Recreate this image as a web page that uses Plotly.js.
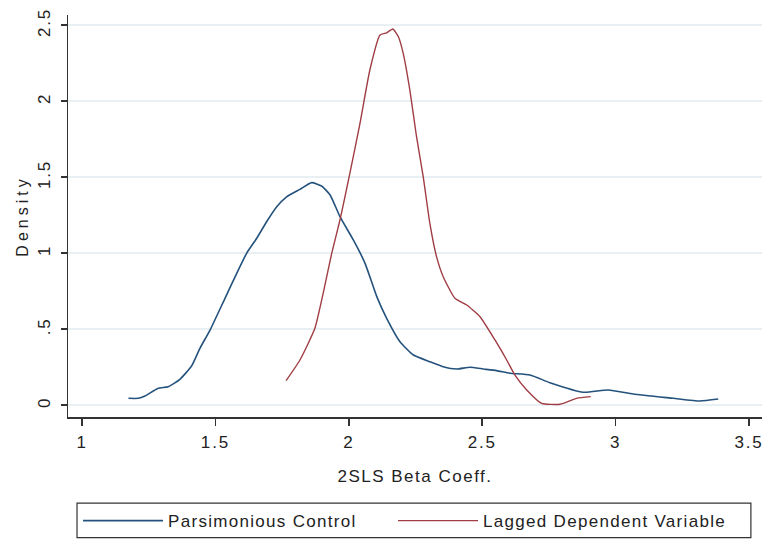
<!DOCTYPE html>
<html>
<head>
<meta charset="utf-8">
<script src="https://cdn.plot.ly/plotly-3.0.1.min.js"></script>
<style>
  html, body { margin: 0; padding: 0; background: #ffffff; }
  #chart { width: 765px; height: 540px; }
  /* wide-set lettering used throughout the figure */
  #chart .xtick text, #chart .ytick text { letter-spacing: 1.8px; }
  #chart .xtitle { letter-spacing: 1.5px; }
  #chart .ytitle { letter-spacing: 4px; }
  #chart .legendtext { letter-spacing: 1.3px; }
  /* let the last legend entry show its full, wider-set label */
  #chart g.legend g.scrollbox, #chart g.legend { clip-path: none !important; }
</style>
</head>
<body>
<div id="chart"></div>
<script>
// Kernel density of the 2SLS beta coefficient, two specifications
const parsimoniousX = [1.174, 1.211, 1.236, 1.286, 1.323, 1.367, 1.411, 1.442, 1.480, 1.536,
  1.580, 1.617, 1.655, 1.692, 1.730, 1.767, 1.817, 1.861, 1.898, 1.930,
  1.967, 2.017, 2.061, 2.105, 2.142, 2.192, 2.242, 2.304, 2.354, 2.404,
  2.454, 2.504, 2.554, 2.604, 2.679, 2.754, 2.879, 2.973, 3.066, 3.216,
  3.316, 3.385];
const parsimoniousY = [0.044, 0.044, 0.059, 0.110, 0.120, 0.169, 0.257, 0.373, 0.493, 0.702,
  0.866, 0.998, 1.097, 1.206, 1.305, 1.370, 1.419, 1.463, 1.441, 1.382,
  1.239, 1.086, 0.932, 0.713, 0.570, 0.416, 0.329, 0.285, 0.252, 0.237,
  0.248, 0.237, 0.226, 0.209, 0.197, 0.147, 0.084, 0.099, 0.072, 0.044,
  0.026, 0.039];

const laggedX = [1.765, 1.817, 1.873, 1.904, 1.936, 1.967, 2.004, 2.042, 2.079, 2.117,
  2.142, 2.165, 2.186, 2.204, 2.229, 2.254, 2.279, 2.304, 2.329, 2.354,
  2.398, 2.442, 2.492, 2.548, 2.592, 2.623, 2.667, 2.723, 2.792, 2.854,
  2.907];
const laggedY = [0.160, 0.296, 0.505, 0.735, 0.998, 1.217, 1.524, 1.853, 2.204, 2.434,
  2.449, 2.474, 2.423, 2.314, 2.072, 1.765, 1.502, 1.195, 0.976, 0.844,
  0.702, 0.658, 0.581, 0.428, 0.296, 0.197, 0.099, 0.011, 0.005, 0.044,
  0.055];

const xTicks = [1, 1.5, 2, 2.5, 3, 3.5];
const xTickText = ["1", "1.5", "2", "2.5", "3", "3.5"];
const yTicks = [0, 0.5, 1, 1.5, 2, 2.5];
const yTickText = ["0", ".5", "1", "1.5", "2", "2.5"];

const seriesNames = ["Parsimonious Control", "Lagged Dependent Variable"];

const FONT = "Arial, 'Liberation Sans', sans-serif";
const TEXT = "#222222";
const AXIS = "#333333";
const GRID = "#e9f0f3";

const traces = [
  {
    x: parsimoniousX, y: parsimoniousY, type: "scatter", mode: "lines",
    name: seriesNames[0],
    line: { color: "#24527d", width: 1.6, shape: "spline", smoothing: 0.5 }
  },
  {
    x: laggedX, y: laggedY, type: "scatter", mode: "lines",
    name: seriesNames[1],
    line: { color: "#a03d44", width: 1.4, shape: "spline", smoothing: 0.5 }
  }
];

const layout = {
  width: 765,
  height: 540,
  margin: { l: 68, r: 3, t: 15, b: 123, autoexpand: false },
  paper_bgcolor: "#ffffff",
  plot_bgcolor: "#ffffff",
  font: { family: FONT, size: 17, color: TEXT },
  showlegend: true,
  legend: {
    orientation: "h",
    xref: "container", yref: "container",
    x: 0.102, xanchor: "left",
    y: 0.035, yanchor: "middle",
    bgcolor: "rgba(0,0,0,0)",
    borderwidth: 0,
    itemwidth: 80,
    entrywidth: 220,
    entrywidthmode: "pixels",
    font: { family: FONT, size: 17, color: TEXT }
  },
  xaxis: {
    range: [0.9475, 3.549],
    tickmode: "array",
    tickvals: xTicks,
    ticktext: xTickText,
    ticks: "outside",
    ticklen: 7,
    tickwidth: 1.5,
    tickcolor: AXIS,
    showline: true,
    linecolor: AXIS,
    linewidth: 1.5,
    showgrid: false,
    zeroline: false,
    ticklabelstandoff: 2,
    tickfont: { family: FONT, size: 17, color: TEXT },
    title: { text: "2SLS Beta Coeff.", font: { family: FONT, size: 17, color: TEXT }, standoff: 19 }
  },
  yaxis: {
    range: [-0.079, 2.566],
    tickmode: "array",
    tickvals: yTicks,
    ticktext: yTickText,
    tickangle: -90,
    ticks: "outside",
    ticklen: 6,
    tickwidth: 1.5,
    tickcolor: AXIS,
    showline: true,
    linecolor: AXIS,
    linewidth: 1.5,
    showgrid: true,
    gridcolor: GRID,
    gridwidth: 1.5,
    zeroline: false,
    ticklabelstandoff: 4,
    tickfont: { family: FONT, size: 17, color: TEXT },
    title: { text: "Density", font: { family: FONT, size: 16, color: TEXT }, standoff: 2 }
  },
  shapes: [
    {
      type: "rect", xref: "paper", yref: "paper",
      x0: 0.013, x1: 0.984, y0: -0.3, y1: -0.214,
      line: { color: AXIS, width: 1.2 },
      fillcolor: "rgba(0,0,0,0)"
    }
  ]
};

Plotly.newPlot("chart", traces, layout, { displayModeBar: false, staticPlot: true });
</script>
</body>
</html>
